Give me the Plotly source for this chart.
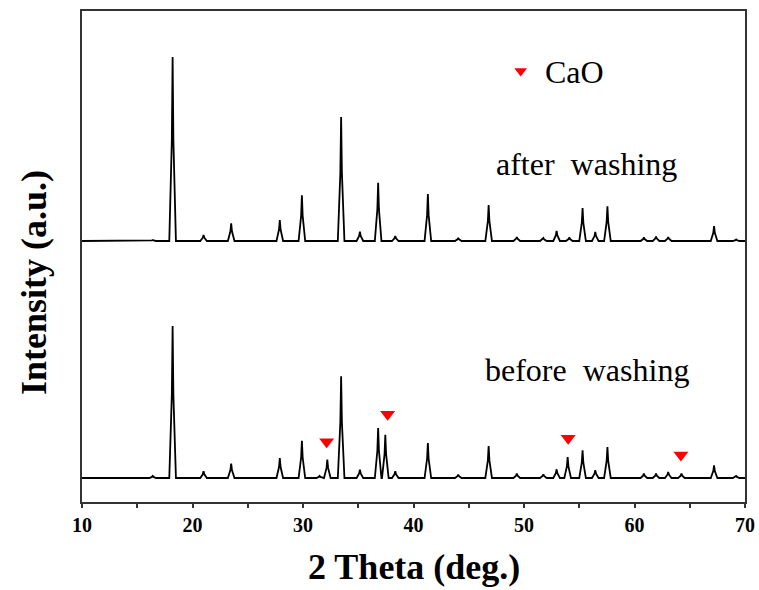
import plotly.graph_objects as go

# ---- data (2θ in degrees, intensity in a.u.) ----
peaks_after_pos = [16.4, 18.2, 21.0, 23.5, 27.9, 29.9, 33.45, 35.15, 36.8, 38.35, 41.3,
                   44.05, 46.8, 49.35, 51.75, 52.95, 54.1, 55.3, 56.45, 57.55, 60.85,
                   61.95, 63.05, 67.2, 69.2]
peaks_after_int = [1, 184, 6, 17.7, 21, 45.7, 124, 9.3, 58.3, 5, 47,
                   3, 36, 4, 3, 10, 3.5, 33, 9, 34.7, 3.5,
                   4.5, 4, 15, 1.5]
peaks_before_pos = [16.4, 18.2, 21.0, 23.5, 27.9, 29.9, 31.5, 32.2, 33.45, 35.15, 36.8,
                    37.45, 38.35, 41.3, 44.05, 46.8, 49.35, 51.75, 52.95, 53.95, 55.3,
                    56.45, 57.55, 60.85, 61.95, 63.05, 64.25, 67.2, 69.2]
peaks_before_int = [2, 152, 6.7, 14.3, 20, 37.3, 2, 18.3, 101.7, 8.3, 50,
                    43.3, 6.7, 35, 3.3, 32, 4.3, 3.7, 8.7, 21, 27.7,
                    7.7, 31, 4.3, 4.3, 6, 4.3, 12.7, 2]
offset_after = 261
offset_before = 24
cao_pos = [32.14, 37.66, 54.0, 64.2]
cao_y = [60.3, 87.7, 63.7, 47.0]
x_range = [10, 70]
x_ticks = [10, 20, 30, 40, 50, 60, 70]

HALF = 0.3  # half base width of a drawn peak (deg)


def profile(pos, inten, base):
    xs, ys = [x_range[0]], [base]
    for p, h in zip(pos, inten):
        xs += [p - HALF, p - 0.07, p, p + 0.07, p + HALF]
        ys += [base, base + 0.55 * h, base + h, base + 0.55 * h, base]
    xs.append(x_range[1])
    ys.append(base)
    return xs, ys


fig = go.Figure()
xa, ya = profile(peaks_after_pos, peaks_after_int, offset_after)
xb, yb = profile(peaks_before_pos, peaks_before_int, offset_before)
for xs, ys in ((xa, ya), (xb, yb)):
    fig.add_trace(go.Scatter(x=xs, y=ys, mode="lines", line=dict(color="black", width=1.8),
                             showlegend=False, hoverinfo="skip"))
fig.add_trace(go.Scatter(x=cao_pos, y=cao_y, mode="markers",
                         marker=dict(symbol="triangle-down", color="#ff0000", size=13),
                         showlegend=False, hoverinfo="skip"))
# legend key
fig.add_trace(go.Scatter(x=[49.7], y=[431], mode="markers",
                         marker=dict(symbol="triangle-down", color="#ff0000", size=11),
                         showlegend=False, hoverinfo="skip"))

serif = "Liberation Serif, Times New Roman, serif"
fig.add_annotation(x=51.7, y=430, text="CaO", showarrow=False, xanchor="left",
                   font=dict(family=serif, size=32, color="black"))
fig.add_annotation(x=55.65, y=338, text="after\u00a0 washing", showarrow=False,
                   font=dict(family=serif, size=32, color="black"))
fig.add_annotation(x=55.7, y=132, text="before\u00a0 washing", showarrow=False,
                   font=dict(family=serif, size=32, color="black"))
# axis titles
fig.add_annotation(xref="paper", yref="paper", x=0.5, y=-0.132, yanchor="middle",
                   text="2 Theta (deg.)", showarrow=False,
                   font=dict(family=serif, size=36, color="black", weight="bold"))
fig.add_annotation(xref="paper", yref="paper", x=0, xshift=-48, xanchor="center",
                   y=(502 - 283) / 491, yanchor="middle", textangle=-90,
                   text="Intensity (a.u.)", showarrow=False,
                   font=dict(family=serif, size=36, color="black", weight="bold"))

fig.update_layout(
    width=759, height=590,
    margin=dict(l=82, r=14, t=11, b=88),
    plot_bgcolor="white", paper_bgcolor="white",
    xaxis=dict(range=x_range, tickvals=x_ticks, ticks="outside", ticklen=4, tickwidth=2,
               tickcolor="#333", showline=True, linecolor="#333", linewidth=2, mirror=True,
               showgrid=False, zeroline=False, automargin=False,
               tickfont=dict(family=serif, size=20, color="black", weight="bold"),
               minor=dict(dtick=5, tick0=0, ticks="outside", ticklen=4, tickwidth=2,
                          tickcolor="#333", showgrid=False)),
    yaxis=dict(range=[0, 491], showticklabels=False, ticks="", showline=True,
               linecolor="#333", linewidth=2, mirror=True, showgrid=False, zeroline=False,
               automargin=False),
)

fig.write_html("out.html")
